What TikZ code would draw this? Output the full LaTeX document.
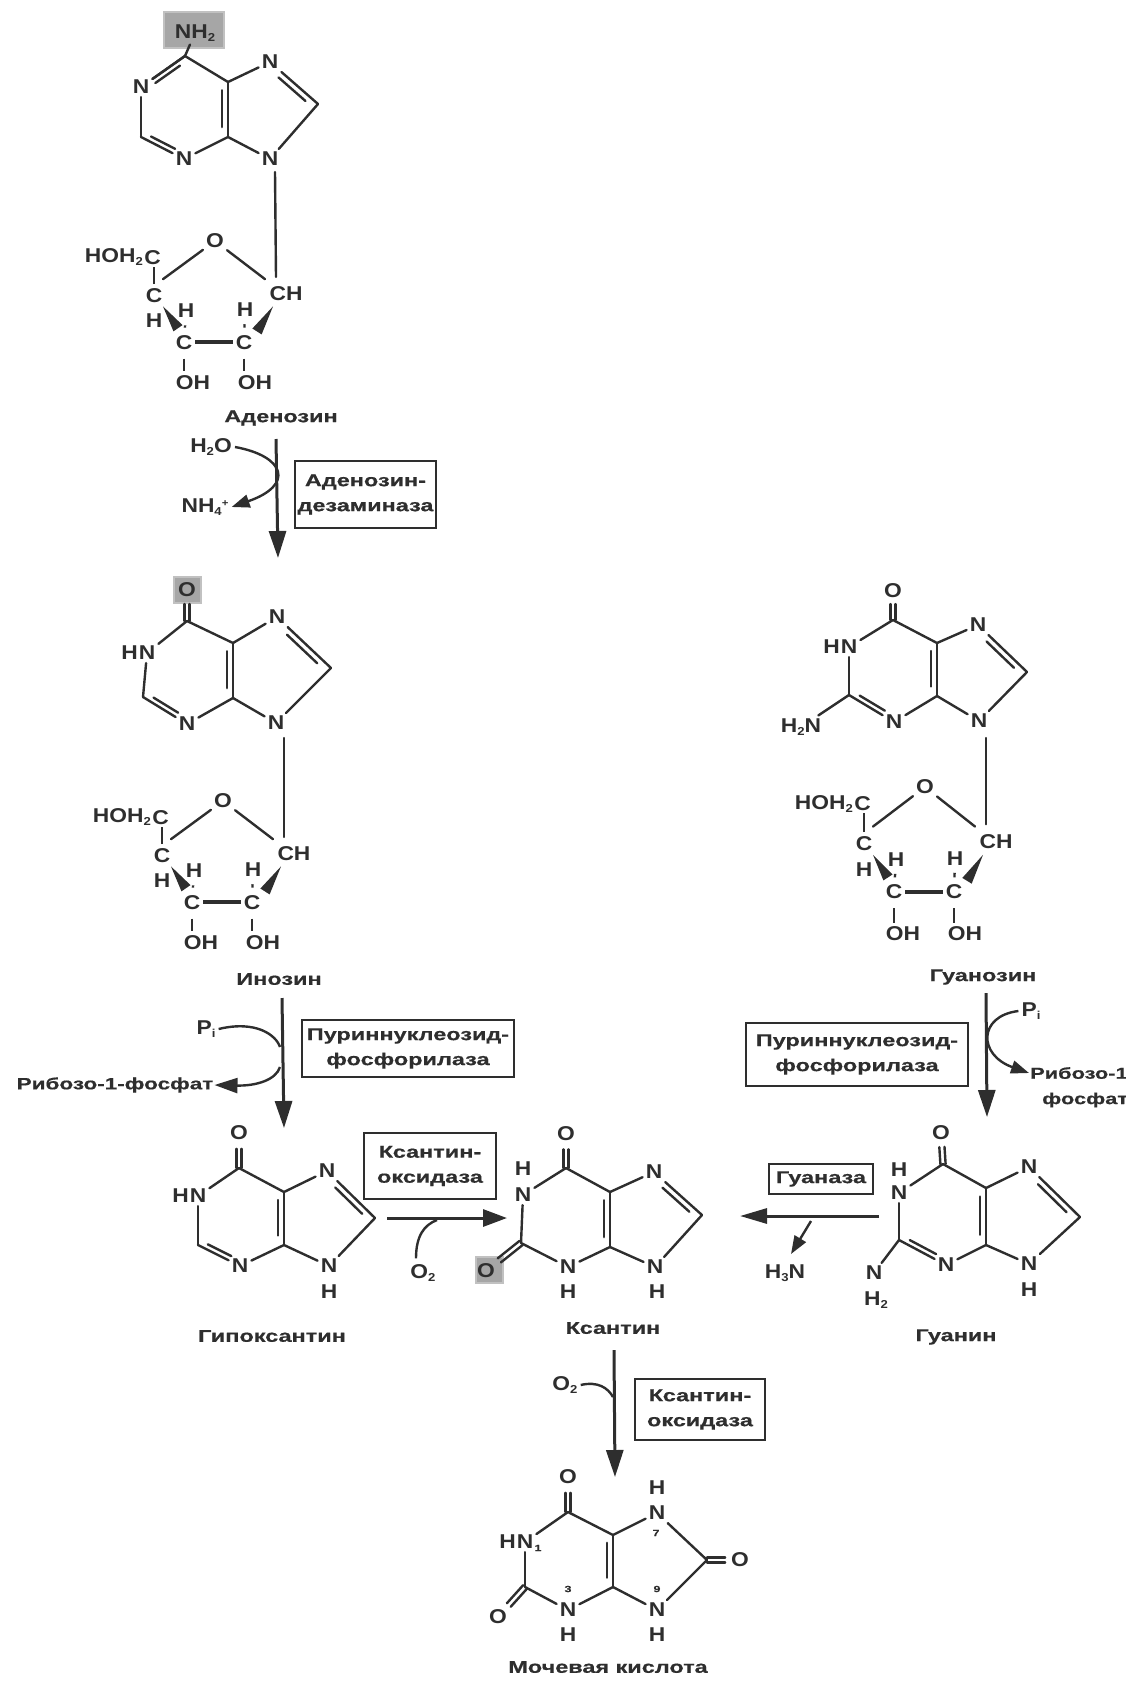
\documentclass[tikz,border=0pt]{standalone}
\usepackage{fontspec}
\usetikzlibrary{calc,arrows.meta}
\setmainfont{Liberation Sans}
\newfontfamily\atomf[FakeStretch=1.14]{Liberation Sans Bold}
\newfontfamily\labf[FakeStretch=1.38,FakeBold=0.6]{Liberation Sans Bold}
\definecolor{ink}{HTML}{2E2E2E}
\definecolor{hl}{HTML}{A6A6A6}
\newcommand\dn[1]{\raisebox{-3pt}{\fontsize{11.5}{11.5}\selectfont #1}}
\newcommand\upp[1]{\raisebox{6pt}{\fontsize{10}{10}\selectfont #1}}
\tikzset{
  bond/.style={line width=2.4pt,draw=ink,line cap=round,line join=round},
  tick/.style={line width=2.4pt,draw=ink,shorten <=4.5pt,shorten >=4.5pt},
  atom/.style={inner sep=3pt,text=ink,font=\atomf\fontsize{20}{20}\selectfont},
  hleft/.style={atom,inner sep=0pt,anchor=east,xshift=2.5pt},
  sm/.style={inner sep=0pt,text=ink,font=\labf\fontsize{9}{9}\selectfont},
  lab/.style={inner sep=1pt,text=ink,font=\labf\fontsize{17}{25}\selectfont,align=center},
  labs/.style={lab,font=\labf\fontsize{15.8}{25}\selectfont},
  enz/.style={lab,draw=ink,line width=2pt,inner sep=0pt},
  main/.style={line width=3pt,draw=ink,-{Triangle[length=27pt,width=17pt]}},
  side/.style={line width=2.4pt,draw=ink,-{Triangle[length=18pt,width=13pt]}},
  thin/.style={line width=2.4pt,draw=ink},
  hlbox/.style={fill=hl,draw=hl!70!white,line width=2.5pt},
}
% carbon corners
\newcommand\ccoords[6]{%
  \coordinate (#1-c6) at (#2); \coordinate (#1-c2) at (#3);
  \coordinate (#1-c4) at (#4); \coordinate (#1-c5) at (#5); \coordinate (#1-c8) at (#6);}
% ring nitrogens
\newcommand\natoms[5]{%
  \node[atom] (#1-n1) at (#2) {N}; \node[atom] (#1-n3) at (#3) {N};
  \node[atom] (#1-n7) at (#4) {N}; \node[atom] (#1-n9) at (#5) {N};}
\newcommand\sbd[2]{\draw[bond] (#1) -- (#2);}
\newcommand\dbl[4][.74]{\draw[bond] (#2) -- (#3);
  \draw[bond] ($(#2)!.18!(#3)!#4!90:(#3)$) -- ($(#2)!#1!(#3)!#4!90:(#3)$);}
% symmetric double bond, #3 = fraction of the way
\newcommand\dbs[3]{%
  \draw[bond] ($(#1)!2.6pt!90:(#2)$) -- ($(#1)!#3!(#2)!2.6pt!90:(#2)$);
  \draw[bond] ($(#1)!2.6pt!-90:(#2)$) -- ($(#1)!#3!(#2)!2.6pt!-90:(#2)$);}
\newcommand\ringb[1]{%
  \sbd{#1-c6}{#1-n1}\sbd{#1-n1}{#1-c2}\sbd{#1-c6}{#1-c5}\sbd{#1-c4}{#1-n3}
  \sbd{#1-c5}{#1-n7}\sbd{#1-c4}{#1-n9}\sbd{#1-n9}{#1-c8}}
% ribose: #1 prefix, #2 position of ring O, #3 yscale, #4 top of glycosidic line
\newcommand\ribose[4]{%
  \begin{scope}[shift={(#2)},yscale=#3]
    \node[atom] (#1-o) at (0,0) {O};
    \node[atom,inner sep=1pt,anchor=east] (#1-cx) at (-53,15) {C};
    \node[atom,inner sep=0pt,anchor=east] (#1-hoh) at (#1-cx.west) {HOH\dn{2}};
    \node[atom] (#1-c4p) at (-61,50) {C};
    \node[atom] (#1-h1) at (-61,73) {H};
    \node[atom] (#1-h2) at (-29,64) {H};
    \node[atom] (#1-cl) at (-31,93) {C};
    \node[atom] (#1-cr) at (29,93) {C};
    \node[atom] (#1-h3) at (30,63) {H};
    \node[atom] (#1-ch) at (71,48) {CH};
    \node[atom] (#1-oh1) at (-22,130) {OH};
    \node[atom] (#1-oh2) at (40,130) {OH};
    \coordinate (#1-w1a) at (-52,60); \coordinate (#1-w1b) at (-37,80);
    \coordinate (#1-w2a) at (58,60); \coordinate (#1-w2b) at (42,83);
    \coordinate (#1-gb) at (61,33);
    \coordinate (#1-ba) at (-52,35); \coordinate (#1-bb) at (50,35);
  \end{scope}
  \coordinate (#1-gt) at (#4);
  \draw[bond] (#1-gt) -- (#1-gb);
  \draw[bond] (#1-ba) -- (#1-o);
  \draw[bond] (#1-o) -- (#1-bb);
  \draw[tick,shorten <=1pt,shorten >=1pt] (#1-c4p.north) -- (#1-c4p.north |- #1-cx.south);
  \draw[tick] (#1-h2) -- (#1-cl);
  \draw[tick] (#1-h3) -- (#1-cr);
  \draw[tick,shorten <=6pt,shorten >=1pt] (#1-cl) -- (#1-cl |- #1-oh1.north);
  \draw[tick,shorten <=6pt,shorten >=1pt] (#1-cr) -- (#1-cr |- #1-oh2.north);
  \draw[line width=4pt,draw=ink] (#1-cl) -- (#1-cr);
  \fill[ink] (#1-w1a) -- ($(#1-w1b)!5.5pt!90:(#1-w1a)$) -- ($(#1-w1b)!5.5pt!-90:(#1-w1a)$) -- cycle;
  \fill[ink] (#1-w2a) -- ($(#1-w2b)!5.5pt!90:(#1-w2a)$) -- ($(#1-w2b)!5.5pt!-90:(#1-w2a)$) -- cycle;
}
\begin{document}
\begin{tikzpicture}[x=1pt,y=-1pt]
\useasboundingbox (0,0) rectangle (1126,1691);
% ---- highlights
\path[hlbox] (164,12) rectangle (224,48);
\path[hlbox] (174,577) rectangle (201,603);
\path[hlbox] (476,1257) rectangle (503,1283);
% ---- adenosine
\ccoords{ad}{185,56}{141,137}{228,137}{228,82}{318,104}
\natoms{ad}{141,87}{184,159}{270,62}{270,159}
\node[atom] (ad-nh2) at (195,33) {NH\dn{2}};
\sbd{ad-c6}{ad-nh2}
\ringb{ad}
\dbl{ad-c6}{ad-n1}{5pt}
\dbl{ad-c2}{ad-n3}{5pt}
\dbl[.85]{ad-c4}{ad-c5}{6pt}
\dbl{ad-c8}{ad-n7}{6pt}
\ribose{adr}{215,241}{1.09}{275,172}
\node[lab] (ad-l) at (281,418) {Аденозин};
\node[atom] (ad-w) at (211,447) {H\dn{2}O};
\node[atom] (ad-nh4) at (205,507) {NH\dn{4}\upp{+}};
\coordinate (a1s) at (276,439); \coordinate (a1e) at (278,558);
\draw[main] (a1s) -- (a1e);
\draw[side] (ad-w.east) .. controls (285,456) and (295,485) .. (ad-nh4.east);
\node[enz,minimum width=141pt,minimum height=67pt] (e1) at (365.5,494.5) {Аденозин-\\дезаминаза};
% ---- inosine
\ccoords{in}{187,621}{143,697}{233,698}{233,643}{331,668}
\natoms{in}{147,653}{187,724}{277,617}{276,723}
\node[hleft] (in-h) at (in-n1.west) {H};
\node[atom] (in-o6) at (187,590) {O};
\dbs{in-c6}{in-o6}{.55}
\ringb{in}
\dbl{in-c2}{in-n3}{5pt}
\dbl[.85]{in-c4}{in-c5}{6pt}
\dbl{in-c8}{in-n7}{6pt}
\ribose{inr}{223,801}{1.09}{284,738}
\node[lab] (in-l) at (279,979) {Инозин};
\node[atom] (in-pi) at (206,1029) {P\dn{i}};
\node[lab,font=\labf\fontsize{16.3}{25}\selectfont] (in-rf) at (115,1085) {Рибозо-1-фосфат};
\coordinate (a2s) at (282,998); \coordinate (a2e) at (284,1128);
\draw[main] (a2s) -- (a2e);
\coordinate (a2in) at (280,1047); \coordinate (a2out) at (280,1067);
\draw[thin] (in-pi.east) .. controls (256,1020) and (276,1035) .. (a2in);
\draw[line width=2.4pt,draw=ink,-{Triangle[length=23pt,width=15pt]}] (a2out) .. controls (276,1080) and (256,1086) .. (in-rf.east);
\node[enz,minimum width=212pt,minimum height=57pt] (e2) at (408,1048.5) {Пуриннуклеозид-\\фосфорилаза};
% ---- guanosine
\ccoords{gs}{893,620}{849,695}{937,696}{937,643}{1027,672}
\natoms{gs}{849,647}{894,722}{978,625}{979,721}
\node[hleft] (gs-h) at (gs-n1.west) {H};
\node[atom] (gs-o6) at (893,591) {O};
\node[atom] (gs-nh2) at (801,727) {H\dn{2}N};
\sbd{gs-c2}{gs-nh2}
\dbs{gs-c6}{gs-o6}{.55}
\ringb{gs}
\dbl{gs-c2}{gs-n3}{5pt}
\dbl[.85]{gs-c4}{gs-c5}{6pt}
\dbl{gs-c8}{gs-n7}{6pt}
\ribose{gsr}{925,787}{1.13}{986,738}
\node[lab] (gs-l) at (983,977) {Гуанозин};
\node[atom] (gs-pi) at (1031,1011) {P\dn{i}};
\node[labs,anchor=west] (gs-r1) at (1029,1073) {Рибозо-1};
\node[labs,anchor=west] (gs-r2) at (1041,1100) {фосфат};
\coordinate (a3s) at (986,993); \coordinate (a3e) at (987,1117);
\draw[main] (a3s) -- (a3e);
\draw[side] (gs-pi.west) .. controls (978,1016) and (978,1055) .. (gs-r1.west);
\node[enz,minimum width=222pt,minimum height=63pt] (e3) at (857,1054.5) {Пуриннуклеозид-\\фосфорилаза};
% ---- hypoxanthine
\ccoords{hx}{239,1168}{198,1245}{284,1245}{284,1192}{375,1218}
\natoms{hx}{198,1196}{240,1266}{327,1171}{329,1266}
\node[hleft] (hx-h) at (hx-n1.west) {H};
\node[atom] (hx-o6) at (239,1133) {O};
\node[atom] (hx-h9) at (329,1292) {H};
\dbs{hx-c6}{hx-o6}{.55}
\ringb{hx}
\dbl{hx-c2}{hx-n3}{5pt}
\dbl[.85]{hx-c4}{hx-c5}{6pt}
\dbl{hx-c8}{hx-n7}{6pt}
\node[lab] (hx-l) at (272,1336) {Гипоксантин};
\node[enz,minimum width=132pt,minimum height=66pt] (e4) at (430,1166) {Ксантин-\\оксидаза};
\node[atom] (hx-o2) at (423,1273) {O\dn{2}};
\coordinate (a4s) at (387,1218); \coordinate (a4e) at (507,1218);
\draw[line width=3pt,draw=ink,-{Triangle[length=24pt,width=17pt]}] (a4s) -- (a4e);
\coordinate (a4b) at (437,1220);
\draw[thin] (hx-o2.north) ++(-7,-3) .. controls (416,1236) and (424,1225) .. (a4b);
% ---- xanthine
\ccoords{xa}{566,1168}{521,1243}{610,1247}{610,1192}{702,1215}
\natoms{xa}{523,1195}{568,1267}{654,1172}{655,1267}
\node[atom] (xa-h1) at (523,1169) {H};
\node[atom] (xa-o6) at (566,1134) {O};
\node[atom] (xa-o2) at (486,1271) {O};
\node[atom] (xa-h3) at (568,1292) {H};
\node[atom] (xa-h9) at (657,1292) {H};
\dbs{xa-c6}{xa-o6}{.55}
\dbs{xa-c2}{xa-o2}{.62}
\ringb{xa}
\sbd{xa-c2}{xa-n3}
\dbl[.85]{xa-c4}{xa-c5}{6pt}
\dbl{xa-c8}{xa-n7}{6pt}
\node[lab] (xa-l) at (613,1328) {Ксантин};
% ---- guanine
\ccoords{gu}{943,1164}{899,1240}{986,1245}{986,1188}{1080,1217}
\natoms{gu}{899,1193}{946,1265}{1029,1167}{1029,1264}
\node[atom] (gu-h1) at (899,1170) {H};
\node[atom] (gu-o6) at (941,1133) {O};
\node[atom] (gu-n2) at (874,1273) {N};
\node[atom] (gu-h2) at (876,1300) {H\dn{2}};
\node[atom] (gu-h9) at (1029,1290) {H};
\sbd{gu-c2}{gu-n2}
\dbs{gu-c6}{gu-o6}{.55}
\ringb{gu}
\dbl{gu-c2}{gu-n3}{5pt}
\dbl[.85]{gu-c4}{gu-c5}{6pt}
\dbl{gu-c8}{gu-n7}{6pt}
\node[lab] (gu-l) at (956,1337) {Гуанин};
\node[enz,minimum width=104pt,minimum height=30pt] (e5) at (821,1179) {Гуаназа};
\node[atom] (gu-h3n) at (785,1273) {H\dn{3}N};
\coordinate (a5s) at (879,1216); \coordinate (a5e) at (740,1216);
\draw[line width=3pt,draw=ink,-{Triangle[length=27pt,width=15pt]}] (a5s) -- (a5e);
\coordinate (a5b) at (811,1221); \coordinate (a5t) at (791,1254);
\draw[side] (a5b) -- (a5t);
% ---- uric acid
\ccoords{ua}{568,1512}{525,1587}{613,1587}{613,1535}{707,1560}
\natoms{ua}{525,1542}{568,1610}{657,1513}{657,1610}
\node[hleft] (ua-h) at (ua-n1.west) {H};
\node[sm] (ua-1) at (538,1548) {1};
\node[sm] (ua-3) at (568,1589) {3};
\node[sm] (ua-7) at (656,1533) {7};
\node[sm] (ua-9) at (657,1589) {9};
\node[atom] (ua-o6) at (568,1477) {O};
\node[atom] (ua-o2) at (498,1617) {O};
\node[atom] (ua-o8) at (740,1560) {O};
\node[atom] (ua-h3) at (568,1635) {H};
\node[atom] (ua-h7) at (657,1488) {H};
\node[atom] (ua-h9) at (657,1635) {H};
\dbs{ua-c6}{ua-o6}{.55}
\dbs{ua-c2}{ua-o2}{.6}
\dbs{ua-c8}{ua-o8}{.55}
\ringb{ua}
\sbd{ua-c2}{ua-n3}
\sbd{ua-n7}{ua-c8}
\dbl[.85]{ua-c4}{ua-c5}{6pt}
\node[lab] (ua-l) at (608,1667) {Мочевая кислота};
\coordinate (a6s) at (614,1350); \coordinate (a6e) at (615,1477);
\draw[main] (a6s) -- (a6e);
\node[atom] (ua-ox) at (565,1385) {O\dn{2}};
\coordinate (a6b) at (613,1397);
\draw[thin] (ua-ox.east) .. controls (598,1381) and (608,1388) .. (a6b);
\node[enz,minimum width=130pt,minimum height=61pt] (e6) at (700,1409.5) {Ксантин-\\оксидаза};
\end{tikzpicture}
\end{document}
